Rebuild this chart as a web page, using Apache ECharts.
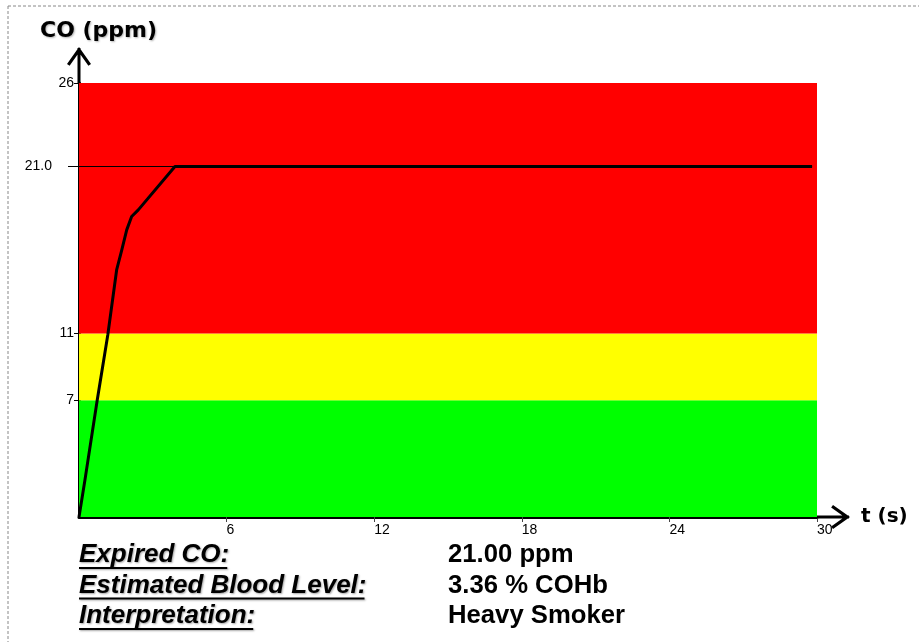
<!DOCTYPE html>
<html>
<head>
<meta charset="utf-8">
<script src="https://cdn.jsdelivr.net/npm/echarts@6/dist/echarts.min.js"></script>
<style>
    html, body { margin: 0; padding: 0; background: #fff; }
    #chart { width: 919px; height: 642px; }
</style>
</head>
<body>
<div id="chart"></div>
<script>
// CO trace
var timeSec = [0, 0.24, 0.74, 1.17, 1.53, 1.74, 1.94, 2.14, 2.41, 3.9, 29.8];
var coPpm = [0, 2.2, 7.0, 10.9, 14.8, 16.0, 17.2, 18.0, 18.4, 21.0, 21.0];

// zones: green / yellow / red
var bandEdges = [0, 7, 11, 26];
var bandColors = ['#00ff00', '#ffff00', '#ff0000'];

var yTickValues = [7, 11, 26];
var readingLevel = 21.0;
var readingEnd = 29.8;

var summaryLabels = ['Expired CO:', 'Estimated Blood Level:', 'Interpretation:'];
var summaryValues = ['21.00 ppm', '3.36 % COHb', 'Heavy Smoker'];

var myChart = echarts.init(document.getElementById('chart'));

// open arrow heads (stem + chevron), pointing up before rotation
var yArrow = 'path://M10.5,1 L13.5,1 L13.5,36 L10.5,36 Z M12,0 L24,17 L21.4,18.85 L12,5.55 L2.6,18.85 L0,17 Z';
var xArrow = 'path://M10.5,1 L13.5,1 L13.5,33 L10.5,33 Z M12,0 L24,17 L21.4,18.85 L12,5.55 L2.6,18.85 L0,17 Z';

var seriesData = timeSec.map(function (t, i) { return [t, coPpm[i]]; });

var bands = [];
for (var i = 0; i < bandColors.length; i++) {
    bands.push([
        { yAxis: bandEdges[i], itemStyle: { color: bandColors[i], opacity: 1 } },
        { yAxis: bandEdges[i + 1] }
    ]);
}

// bottom summary text
var labelFont = 'italic bold 26px "Liberation Sans"';
var valueFont = 'bold 25.7px "Liberation Sans"';
var ctx = document.createElement('canvas').getContext('2d');
ctx.font = labelFont;
var textShadow = { textShadowColor: 'rgba(0,0,0,0.35)', textShadowBlur: 2, textShadowOffsetX: 1, textShadowOffsetY: 1 };
var graphics = [
    { type: 'line', shape: { x1: 8, y1: 6, x2: 919, y2: 6 }, style: { stroke: '#888', lineWidth: 1, lineDash: [3, 2] } },
    { type: 'line', shape: { x1: 8, y1: 6, x2: 8, y2: 642 }, style: { stroke: '#888', lineWidth: 1, lineDash: [3, 2] } }
];
for (var j = 0; j < summaryLabels.length; j++) {
    var cy = 555 + j * 30.5;
    graphics.push({
        type: 'text', x: 79, y: cy,
        style: Object.assign({ text: summaryLabels[j], font: labelFont, fill: '#000', verticalAlign: 'middle' }, textShadow)
    });
    graphics.push({
        type: 'rect', shape: { x: 79, y: cy + 12, width: ctx.measureText(summaryLabels[j]).width - 2, height: 2 },
        style: { fill: '#000', shadowColor: 'rgba(0,0,0,0.35)', shadowBlur: 2, shadowOffsetX: 1, shadowOffsetY: 1 }
    });
    graphics.push({
        type: 'text', x: 448, y: cy,
        style: { text: summaryValues[j], font: valueFont, fill: '#000', verticalAlign: 'middle' }
    });
}

var settings = {
    animation: false,
    backgroundColor: '#fff',
    title: {
        text: 'CO (ppm)',
        left: 40,
        top: 20,
        padding: 0,
        textStyle: {
            fontFamily: 'DejaVu Sans',
            fontWeight: 'bold',
            fontSize: 22,
            color: '#000',
            textShadowColor: 'rgba(0,0,0,0.3)',
            textShadowBlur: 2,
            textShadowOffsetX: 1,
            textShadowOffsetY: 1
        }
    },
    grid: {
        left: 79,
        right: 102,
        top: 83,
        bottom: 125,
        containLabel: false,
        outerBoundsMode: 'none'
    },
    xAxis: {
        type: 'value',
        min: 0,
        max: 30,
        interval: 6,
        name: 't (s)',
        nameLocation: 'end',
        nameGap: 44,
        nameTextStyle: {
            fontFamily: 'DejaVu Sans',
            fontWeight: 'bold',
            fontSize: 20,
            color: '#000'
        },
        axisLine: {
            show: true,
            onZero: false,
            symbol: ['none', xArrow],
            symbolSize: [24, 33],
            symbolOffset: [0, 16.5],
            lineStyle: { color: '#000', width: 3 }
        },
        axisTick: {
            show: true,
            length: 5,
            lineStyle: { color: '#444', width: 1 }
        },
        axisLabel: {
            showMinLabel: false,
            align: 'left',
            margin: 6,
            fontFamily: 'Liberation Sans',
            fontSize: 14,
            color: '#000'
        },
        splitLine: { show: false }
    },
    yAxis: [
        {
            type: 'value',
            min: 0,
            max: 26,
            axisLine: {
                show: true,
                onZero: false,
                symbol: ['none', yArrow],
                symbolSize: [24, 36],
                symbolOffset: [0, 18],
                lineStyle: { color: '#000', width: 3 }
            },
            axisTick: {
                show: true,
                customValues: yTickValues,
                length: 5,
                lineStyle: { color: '#000', width: 1 }
            },
            axisLabel: {
                customValues: yTickValues,
                margin: 5,
                fontFamily: 'Liberation Sans',
                fontSize: 14,
                color: '#000'
            },
            splitLine: { show: false }
        },
        {
            // the 21.0 reading gets its own longer tick
            type: 'value',
            min: 0,
            max: 26,
            position: 'left',
            axisLine: { show: false },
            axisTick: {
                show: true,
                customValues: [readingLevel],
                length: 11,
                lineStyle: { color: '#000', width: 1 }
            },
            axisLabel: {
                customValues: [readingLevel],
                formatter: function (v) { return v.toFixed(1); },
                margin: 27,
                fontFamily: 'Liberation Sans',
                fontSize: 14,
                color: '#000'
            },
            splitLine: { show: false }
        }
    ],
    graphic: graphics,
    series: [
        {
            name: 'CO',
            type: 'line',
            data: seriesData,
            symbol: 'none',
            smooth: false,
            lineStyle: { color: '#000', width: 3, join: 'round' },
            markArea: {
                silent: true,
                data: bands
            },
            markLine: {
                silent: true,
                symbol: ['none', 'none'],
                label: { show: false },
                lineStyle: { color: '#000', width: 1, type: 'solid' },
                data: [[{ coord: [0, readingLevel] }, { coord: [readingEnd, readingLevel] }]]
            }
        }
    ]
};

myChart.setOption(settings);
</script>
</body>
</html>
